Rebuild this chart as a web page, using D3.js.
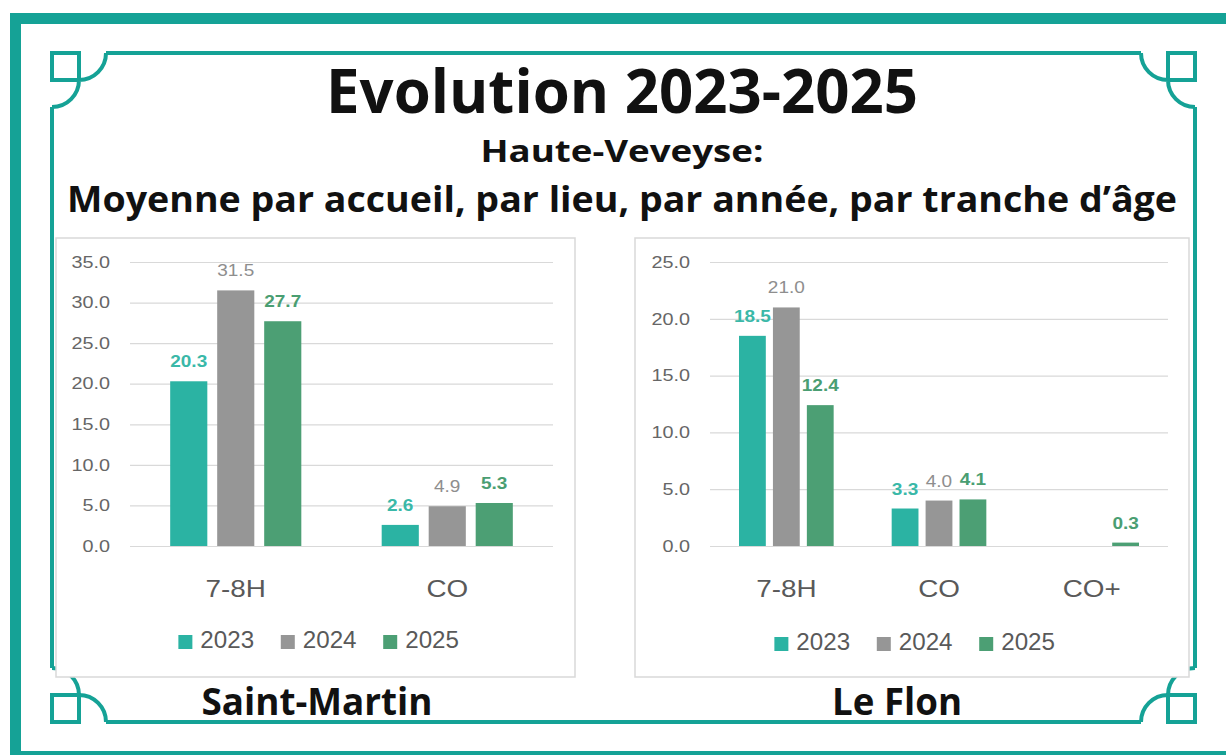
<!DOCTYPE html>
<html>
<head>
<meta charset="utf-8">
<script src="https://cdn.jsdelivr.net/npm/d3@7"></script>
<style>
  body { margin: 0; background: #fff; }
  svg { display: block; }
</style>
</head>
<body>
<div id="chart"></div>
<script>
"use strict"

// series and colours
const years = ["2023", "2024", "2025"]
const yearColors = ["#2bb3a3", "#969696", "#4c9f74"]
const labelColors = ["#3ab8a8", "#8e8e8e", "#4a9e72"]

// Saint-Martin
const smCategories = ["7-8H", "CO"]
const sm2023 = [20.3, 2.6]
const sm2024 = [31.5, 4.9]
const sm2025 = [27.7, 5.3]
const smTicks = [0, 5, 10, 15, 20, 25, 30, 35]

// Le Flon
const lfCategories = ["7-8H", "CO", "CO+"]
const lf2023 = [18.5, 3.3, null]
const lf2024 = [21.0, 4.0, null]
const lf2025 = [12.4, 4.1, 0.3]
const lfTicks = [0, 5, 10, 15, 20, 25]

const titleText = "Evolution 2023-2025"
const subTitle1 = "Haute-Veveyse:"
const subTitle2 = "Moyenne par accueil, par lieu, par année, par tranche d’âge"

const W = 1226, H = 755
const teal = "#15a296"
const chartFont = "'Liberation Sans', Arial, sans-serif"
const headFont = "'Open Sans', 'Noto Sans', sans-serif"

const svg = d3.select("#chart").append("svg")
  .attr("width", W)
  .attr("height", H)

// stretch a text horizontally (keeps anchor)
function stretch(sel, k) {
  sel.each(function() {
    const w = this.getComputedTextLength()
    d3.select(this).attr("textLength", w * k).attr("lengthAdjust", "spacingAndGlyphs")
  })
}
function fitWidth(sel, target) {
  sel.attr("textLength", target).attr("lengthAdjust", "spacingAndGlyphs")
}

// outer thick frame
svg.append("rect")
  .attr("x", 15.5).attr("y", 18.5)
  .attr("width", 1240).attr("height", 738)
  .attr("fill", "none")
  .attr("stroke", teal)
  .attr("stroke-width", 11)

// inner frame with corner ornaments
const fr = {l: 52, r: 1195, t: 53, b: 722, c: 27}
const frame = svg.append("g")
  .attr("fill", "none")
  .attr("stroke", teal)
  .attr("stroke-width", 4)
frame.append("path").attr("d",
  `M${fr.l + 2 * fr.c},${fr.t}H${fr.r - 2 * fr.c}` +
  `M${fr.l + 2 * fr.c},${fr.b}H${fr.r - 2 * fr.c}` +
  `M${fr.l},${fr.t + 2 * fr.c}V${fr.b - 2 * fr.c}` +
  `M${fr.r},${fr.t + 2 * fr.c}V${fr.b - 2 * fr.c}`)
const c = fr.c
const cornerPath = `M${2 * c},0A${c},${c} 0 0 1 ${c},${c}A${c},${c} 0 0 1 0,${2 * c}M0,0H${c}V${c}H0Z`
;[[fr.l, fr.t, 1, 1], [fr.r, fr.t, -1, 1], [fr.l, fr.b, 1, -1], [fr.r, fr.b, -1, -1]].forEach(p => {
  frame.append("path")
    .attr("d", cornerPath)
    .attr("transform", `translate(${p[0]},${p[1]}) scale(${p[2]},${p[3]})`)
})

// titles
const cx = 622
svg.append("text")
  .attr("x", cx).attr("y", 113)
  .attr("text-anchor", "middle")
  .style("font-family", headFont).style("font-weight", 700).style("font-size", "60px")
  .attr("fill", "#111")
  .text(titleText)
  .call(fitWidth, 592)
svg.append("text")
  .attr("x", cx).attr("y", 162)
  .attr("text-anchor", "middle")
  .style("font-family", headFont).style("font-weight", 700).style("font-size", "31px")
  .attr("fill", "#111")
  .text(subTitle1)
  .call(fitWidth, 283)
svg.append("text")
  .attr("x", cx).attr("y", 212)
  .attr("text-anchor", "middle")
  .style("font-family", headFont).style("font-weight", 700).style("font-size", "36px")
  .attr("fill", "#111")
  .text(subTitle2)
  .call(fitWidth, 1110)

function drawPanel(o) {
  const g = svg.append("g")

  g.append("rect")
    .attr("x", o.box[0]).attr("y", 238)
    .attr("width", o.box[1] - o.box[0]).attr("height", 439)
    .attr("fill", "#fff")
    .attr("stroke", "#d9d9d9")
    .attr("stroke-width", 1.5)

  const x0 = d3.scaleBand().domain(o.categories).range([o.left, o.right])
  const groupW = x0.bandwidth() * 0.62
  const x1 = d3.scaleBand().domain(years).range([0, groupW]).paddingInner(0.21)
  const y = d3.scaleLinear().domain([0, d3.max(o.ticks)]).range([546, 262])

  // grid + y labels
  g.append("g")
    .attr("transform", `translate(${o.left},0)`)
    .call(d3.axisLeft(y).tickValues(o.ticks).tickSize(-(o.right - o.left))
      .tickPadding(20).tickFormat(d3.format(".1f")))
    .call(a => a.select(".domain").remove())
    .call(a => a.selectAll("line").attr("stroke", "#d9d9d9").attr("stroke-width", 1.2))
    .call(a => a.selectAll("text")
      .attr("fill", "#666")
      .style("font-family", chartFont)
      .style("font-size", "16.5px")
      .call(stretch, 1.2))

  // x labels
  g.append("g")
    .attr("transform", "translate(0,546)")
    .call(d3.axisBottom(x0).tickSize(0))
    .call(a => a.select(".domain").remove())
    .call(a => a.selectAll("text")
      .attr("y", 51).attr("dy", 0)
      .attr("fill", "#595959")
      .style("font-family", chartFont)
      .style("font-size", "24px")
      .call(stretch, 1.16))

  const rows = o.categories.flatMap((cat, i) =>
    years.map((yr, j) => ({cat: cat, yr: yr, j: j, v: o.series[j][i]})))
    .filter(d => d.v != null)
  const bx = d => x0(d.cat) + (x0.bandwidth() - groupW) / 2 + x1(d.yr)

  g.selectAll(".bar")
    .data(rows)
    .enter()
    .append("rect")
      .attr("class", "bar")
      .attr("x", bx)
      .attr("y", d => y(d.v))
      .attr("width", x1.bandwidth())
      .attr("height", d => y(0) - y(d.v))
      .attr("fill", d => yearColors[d.j])

  g.selectAll(".lbl")
    .data(rows)
    .enter()
    .append("text")
      .attr("class", "lbl")
      .attr("x", d => bx(d) + x1.bandwidth() / 2)
      .attr("y", d => y(d.v) - 14)
      .attr("text-anchor", "middle")
      .attr("fill", d => labelColors[d.j])
      .style("font-family", chartFont)
      .style("font-weight", d => d.j === 1 ? 400 : 700)
      .style("font-size", "16.5px")
      .text(d => d3.format(".1f")(d.v))
      .call(stretch, 1.15)

  // legend
  const lg = g.append("g")
  let xpos = 0
  years.forEach((yr, j) => {
    lg.append("rect")
      .attr("x", xpos).attr("y", -13)
      .attr("width", 14).attr("height", 14)
      .attr("fill", yearColors[j])
    const t = lg.append("text")
      .attr("x", xpos + 22).attr("y", 0)
      .attr("fill", "#595959")
      .style("font-family", chartFont)
      .style("font-size", "23px")
      .text(yr)
      .call(stretch, 1.05)
    xpos += 22 + t.node().getComputedTextLength() * 1.05 + 24
  })
  const lw = xpos - 24
  lg.attr("transform", `translate(${o.legendCx - lw / 2},${o.legendY})`)

  // place name
  g.append("text")
    .attr("x", o.nameX).attr("y", 715)
    .attr("text-anchor", "middle")
    .attr("fill", "#111")
    .style("font-family", headFont).style("font-weight", 700).style("font-size", "37px")
    .text(o.name)
    .call(fitWidth, o.nameW)
}

drawPanel({
  box: [56, 575], left: 130, right: 553,
  categories: smCategories, series: [sm2023, sm2024, sm2025], ticks: smTicks,
  legendCx: 320, legendY: 648,
  name: "Saint-Martin", nameX: 317, nameW: 231
})

drawPanel({
  box: [635, 1189], left: 710, right: 1168,
  categories: lfCategories, series: [lf2023, lf2024, lf2025], ticks: lfTicks,
  legendCx: 916, legendY: 650,
  name: "Le Flon", nameX: 897, nameW: 130
})
</script>
</body>
</html>
